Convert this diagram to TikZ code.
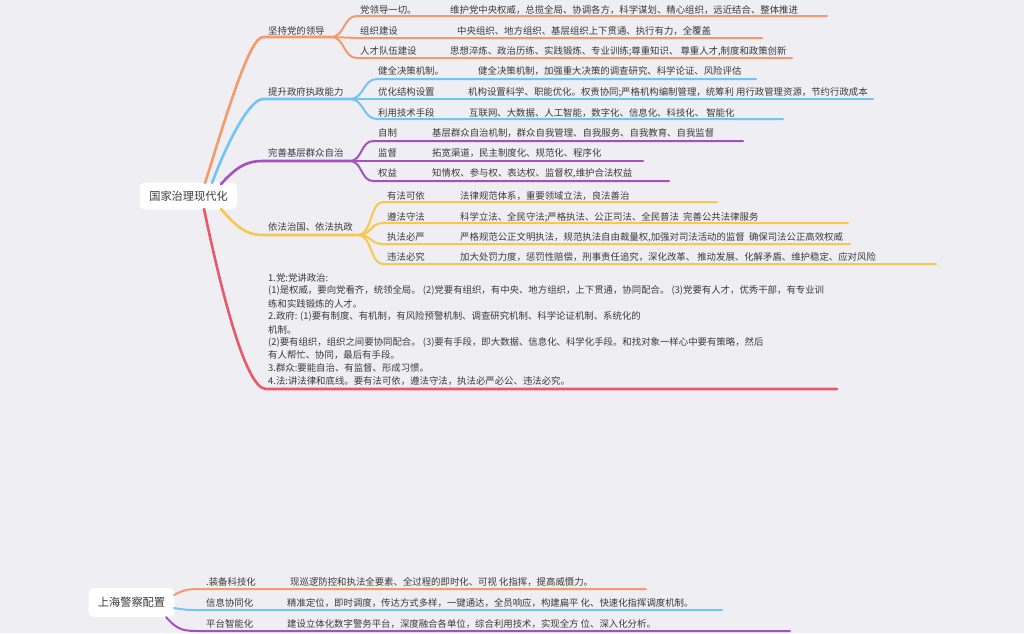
\documentclass[tikz,border=0pt]{standalone}
\usepackage{fontspec}
\setmainfont{Noto Sans CJK SC}
\definecolor{bg}{HTML}{EFEEF3}
\definecolor{textc}{HTML}{3A3A3A}
\definecolor{cor}{HTML}{F49A6B}
\definecolor{cbl}{HTML}{72C4F4}
\definecolor{cpu}{HTML}{A450C0}
\definecolor{cye}{HTML}{F6C94E}
\definecolor{cre}{HTML}{E8596A}
\tikzset{
  txt/.style={anchor=west, inner sep=0pt, font=\fontsize{9.4}{11}\selectfont, text=textc},
  rootbox/.style={fill=white, rounded corners=5pt, inner sep=0pt, font=\fontsize{11.2}{13}\selectfont, text=textc},
  trunk/.style={line width=2.6pt, line cap=round},
  twig/.style={line width=2pt, line cap=round},
}
\begin{document}
\begin{tikzpicture}[x=1pt,y=-1pt]
\useasboundingbox[fill=bg] (0,0) rectangle (1024,633);

% ===== root 1 =====
\node[rootbox, minimum width=97pt, minimum height=27pt] (root) at (188.5,196) {国家治理现代化};

% orange branch
\coordinate (o0) at (205,183);
\coordinate (o1) at (263,37);
\coordinate (o2) at (331,37);
\coordinate (oa) at (357,16);  \coordinate (oa2) at (827,16);
\coordinate (ob) at (357,38);  \coordinate (ob2) at (762,38);
\coordinate (oc) at (357,58);  \coordinate (oc2) at (792,58);
\draw[cor,trunk] (o0) .. controls (225,120) and (249,37) .. (o1) -- (o2);
\draw[cor,twig] (o2) .. controls (345,37) and (343,16) .. (oa) -- (oa2);
\draw[cor,twig] (o2) -- (ob) -- (ob2);
\draw[cor,twig] (o2) .. controls (345,37) and (343,58) .. (oc) -- (oc2);
\node[txt] (lo) at (268,31) {坚持党的领导};
\node[txt] (loa) at (360,10) {党领导一切。};
\node[txt] (lob) at (360,31) {组织建设};
\node[txt] (loc) at (360,51) {人才队伍建设};
\node[txt] (doa) at (450,10) {维护党中央权威，总揽全局、协调各方，科学谋划、精心组织，远近结合、整体推进};
\node[txt] (dob) at (457,31) {中央组织、地方组织、基层组织上下贯通、执行有力，全覆盖};
\node[txt] (doc) at (450,51) {思想淬炼、政治历练、实践锻炼、专业训练;尊重知识、 尊重人才,制度和政策创新};

% blue branch
\coordinate (b0) at (212,183);
\coordinate (b1) at (263,99);
\coordinate (b2) at (350,99);
\coordinate (ba) at (377,79);  \coordinate (ba2) at (756,79);
\coordinate (bb) at (377,99);  \coordinate (bb2) at (873,99);
\coordinate (bc) at (377,119); \coordinate (bc2) at (783,119);
\draw[cbl,trunk] (b0) .. controls (228,140) and (250,99) .. (b1) -- (b2);
\draw[cbl,twig] (b2) .. controls (364,99) and (363,79) .. (ba) -- (ba2);
\draw[cbl,twig] (b2) -- (bb) -- (bb2);
\draw[cbl,twig] (b2) .. controls (364,99) and (363,119) .. (bc) -- (bc2);
\node[txt] (lb) at (268,92) {提升政府执政能力};
\node[txt] (lba) at (378,71) {健全决策机制。};
\node[txt] (lbb) at (378,92) {优化结构设置};
\node[txt] (lbc) at (378,113) {利用技术手段};
\node[txt] (dba) at (478,71) {健全决策机制，加强重大决策的调查研究、科学论证、风险评估};
\node[txt] (dbb) at (468,92) {机构设置科学、职能优化。权责协同;严格机构编制管理，统筹利 用行政管理资源，节约行政成本};
\node[txt] (dbc) at (469,113) {互联网、大数据、人工智能，数字化、信息化、科技化、 智能化};

% purple branch
\coordinate (p0) at (221,184);
\coordinate (p1) at (263,161);
\coordinate (p2) at (350,161);
\coordinate (pa) at (373,141); \coordinate (pa2) at (743,141);
\coordinate (pb) at (373,161); \coordinate (pb2) at (643,161);
\coordinate (pc) at (373,181); \coordinate (pc2) at (669,181);
\draw[cpu,trunk] (p0) .. controls (236,168) and (245,161) .. (p1) -- (p2);
\draw[cpu,twig] (p2) .. controls (362,161) and (361,141) .. (pa) -- (pa2);
\draw[cpu,twig] (p2) -- (pb) -- (pb2);
\draw[cpu,twig] (p2) .. controls (362,161) and (361,181) .. (pc) -- (pc2);
\node[txt] (lp) at (268,153) {完善基层群众自治};
\node[txt] (lpa) at (378,133) {自制};
\node[txt] (lpb) at (378,153) {监督};
\node[txt] (lpc) at (378,173) {权益};
\node[txt] (dpa) at (432,133) {基层群众自治机制，群众自我管理、自我服务、自我教育、自我监督};
\node[txt] (dpb) at (432,153) {拓宽渠道，民主制度化、规范化、程序化};
\node[txt] (dpc) at (432,173) {知情权、参与权、表达权、监督权,维护合法权益};

% yellow branch
\coordinate (y0) at (221,209);
\coordinate (y1) at (263,235);
\coordinate (y2) at (358,235);
\coordinate (ya) at (383,202); \coordinate (ya2) at (717,202);
\coordinate (yb) at (383,223); \coordinate (yb2) at (848,223);
\coordinate (yc) at (383,244); \coordinate (yc2) at (850,244);
\coordinate (yd) at (383,264); \coordinate (yd2) at (936,264);
\draw[cye,trunk] (y0) .. controls (236,226) and (245,235) .. (y1) -- (y2);
\draw[cye,twig] (y2) .. controls (372,235) and (370,202) .. (ya) -- (ya2);
\draw[cye,twig] (y2) .. controls (372,235) and (370,223) .. (yb) -- (yb2);
\draw[cye,twig] (y2) .. controls (372,235) and (370,244) .. (yc) -- (yc2);
\draw[cye,twig] (y2) .. controls (372,235) and (370,264) .. (yd) -- (yd2);
\node[txt] (ly) at (268,227) {依法治国、依法执政};
\node[txt] (lya) at (387,196) {有法可依};
\node[txt] (lyb) at (387,217) {遵法守法};
\node[txt] (lyc) at (387,237) {执法必严};
\node[txt] (lyd) at (387,257) {违法必究};
\node[txt] (dya) at (460,196) {法律规范体系，重要领域立法，良法善治};
\node[txt] (dyb) at (460,217) {科学立法、全民守法;严格执法、公正司法、全民普法\ \ 完善公共法律服务};
\node[txt] (dyc) at (460,237) {严格规范公正文明执法，规范执法自由裁量权,加强对司法活动的监督\ \ 确保司法公正高效权威};
\node[txt] (dyd) at (460,257) {加大处罚力度，惩罚性赔偿，刑事责任追究，深化改革、 推动发展、化解矛盾、维护稳定、应对风险};

% red branch (note)
\coordinate (r0) at (204,209);
\coordinate (r1) at (266,389);
\coordinate (r2) at (837,389);
\draw[cre,trunk] (r0) .. controls (220,285) and (245,389) .. (r1) -- (r2);
\node[txt] (n1) at (268,278) {1.党:党讲政治:};
\node[txt] (n2) at (268,290.9) {(1)是权威，要向党看齐，统领全局。 (2)党要有组织，有中央、地方组织，上下贯通，协同配合。 (3)党要有人才，优秀干部，有专业训};
\node[txt] (n3) at (268,303.8) {练和实践锻炼的人才。};
\node[txt] (n4) at (268,316.7) {2.政府: (1)要有制度、有机制，有风险预警机制、调查研究机制、科学论证机制、系统化的};
\node[txt] (n5) at (268,329.6) {机制。};
\node[txt] (n6) at (268,342.5) {(2)要有组织，组织之间要协同配合。 (3)要有手段，即大数据、信息化、科学化手段。和找对象一样心中要有策略，然后};
\node[txt] (n7) at (268,355.4) {有人帮忙、协同，最后有手段。};
\node[txt] (n8) at (268,368.3) {3.群众:要能自治、有监督、形成习惯。};
\node[txt] (n9) at (268,381.2) {4.法:讲法律和底线。要有法可依，遵法守法，执法必严必公、违法必究。};

% ===== root 2 =====
\node[rootbox, minimum width=86pt, minimum height=29pt] (root2) at (131.5,602.5) {上海警察配置};
\coordinate (s0) at (174,595);
\coordinate (s1) at (200,589); \coordinate (s12) at (646,589);
\coordinate (t0) at (174,608);
\coordinate (t1) at (200,610); \coordinate (t12) at (722,610);
\coordinate (u0) at (166,617);
\coordinate (u1) at (200,631); \coordinate (u12) at (790,631);
\draw[cor,twig] (s0) .. controls (185,589) and (190,589) .. (s1) -- (s12);
\draw[cbl,twig] (t0) .. controls (185,610) and (190,610) .. (t1) -- (t12);
\draw[cpu,twig] (u0) .. controls (178,631) and (185,631) .. (u1) -- (u12);
\node[txt] (la) at (206,582) {.装备科技化};
\node[txt] (lb2) at (206,603) {信息协同化};
\node[txt] (lc2) at (206,624) {平台智能化};
\node[txt] (da) at (290,582) {现巡逻防控和执法全要素、全过程的即时化、可视 化指挥，提高威慑力。};
\node[txt] (db2) at (287,603) {精准定位，即时调度，传达方式多样，一键通达，全员响应，构建扁平 化、快速化指挥调度机制。};
\node[txt] (dc2) at (287,624) {建设立体化数字警务平台，深度融合各单位，综合利用技术，实现全方 位、深入化分析。};
\end{tikzpicture}
\end{document}
